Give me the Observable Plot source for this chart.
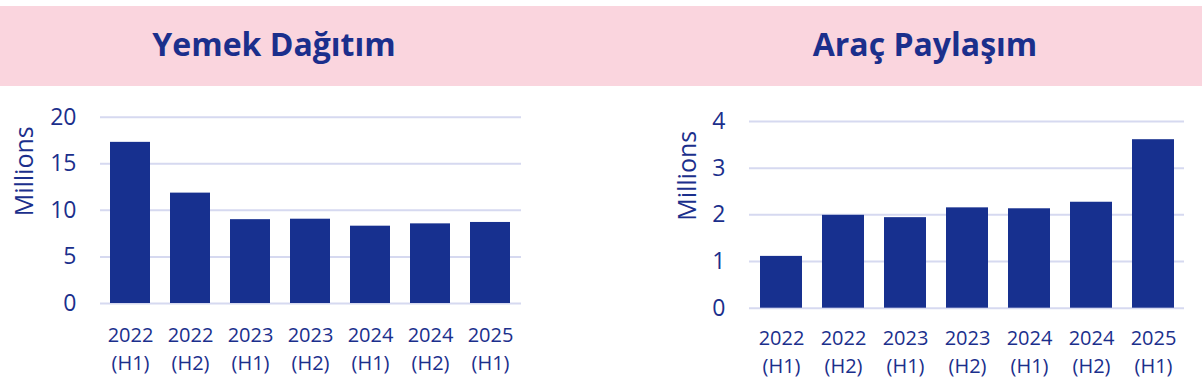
<!DOCTYPE html>
<html>
<head>
<meta charset="utf-8">
<script src="https://cdn.jsdelivr.net/npm/d3@7"></script>
<script src="https://cdn.jsdelivr.net/npm/@observablehq/plot@0.6"></script>
<style>
  html, body { margin: 0; padding: 0; background: #ffffff; }
  #root { position: relative; width: 1202px; height: 387px; overflow: hidden; font-family: "Open Sans", sans-serif; }
  #band { position: absolute; left: 0; top: 6px; width: 1202px; height: 80px; background: #fad5de; }
  .title { position: absolute; top: 28px; width: 400px; text-align: center; font-weight: 700; font-size: 32px; line-height: 32px; color: #1b2f8c; white-space: nowrap; }
  .chart { position: absolute; top: 90px; }
  .chart svg { overflow: visible; }
  .chart g[aria-label="y-axis label"] text { font-size: 25px; translate: 0 -39px; }
</style>
</head>
<body>
<div id="root">
  <div id="band"></div>
  <div class="title" id="t1"></div>
  <div class="title" id="t2"></div>
  <div class="chart" id="c1"></div>
  <div class="chart" id="c2"></div>
</div>
<script>
// ---- data ----
const periods = ["2022 (H1)", "2022 (H2)", "2023 (H1)", "2023 (H2)", "2024 (H1)", "2024 (H2)", "2025 (H1)"];
const foodDelivery = [17.3, 11.85, 9.0, 9.05, 8.3, 8.55, 8.7];
const rideSharing = [1.11, 1.99, 1.94, 2.15, 2.13, 2.27, 3.61];
const foodTicks = [0, 5, 10, 15, 20];
const rideTicks = [0, 1, 2, 3, 4];
const titles = ["Yemek Dağıtım", "Araç Paylaşım"];
const yLabel = "Millions";

const navy = "#1b2f8c";
const barColor = "#17308f";
const gridColor = "#d6d9f0";

document.getElementById("t1").textContent = titles[0];
document.getElementById("t2").textContent = titles[1];
document.getElementById("t1").style.left = (274 - 200) + "px";
document.getElementById("t2").style.left = (925 - 200) + "px";

function makeChart(values, ticks, domainMax, opts) {
  const data = periods.map((p, i) => ({period: p, value: values[i]}));
  return Plot.plot({
    width: opts.width,
    height: 297,
    marginLeft: opts.marginLeft,
    marginRight: opts.marginRight,
    marginTop: opts.marginTop,
    marginBottom: opts.marginBottom,
    style: {fontFamily: "Open Sans, sans-serif", color: navy, background: "transparent", overflow: "visible"},
    x: {domain: periods, paddingInner: 0.33, paddingOuter: 0.165, label: null},
    y: {domain: [0, domainMax], label: null},
    marks: [
      Plot.gridY(ticks, {stroke: gridColor, strokeOpacity: 1, strokeWidth: 2}),
      Plot.barY(data, {x: "period", y: "value", fill: barColor}),
      Plot.axisY(ticks, {
        tickSize: 0, tickPadding: 24, fontSize: 23, fill: navy,
        label: yLabel, labelAnchor: "center", labelArrow: "none", labelOffset: opts.labelOffset
      }),
      Plot.axisX({
        tickSize: 0, tickPadding: opts.xPad, fontSize: 20, fill: navy, lineHeight: 1.4,
        tickFormat: d => d.replace(" ", "\n"), label: null
      })
    ]
  });
}

const c1 = document.getElementById("c1");
c1.style.left = "0px";
c1.appendChild(makeChart(foodDelivery, foodTicks, 20, {
  width: 540, marginLeft: 100, marginRight: 19, marginTop: 26.7, marginBottom: 84, labelOffset: 85, xPad: 19
}));

const c2 = document.getElementById("c2");
c2.style.left = "660px";
c2.appendChild(makeChart(rideSharing, rideTicks, 4, {
  width: 542, marginLeft: 89, marginRight: 18, marginTop: 31, marginBottom: 79.3, labelOffset: 71, xPad: 17
}));
</script>
</body>
</html>
